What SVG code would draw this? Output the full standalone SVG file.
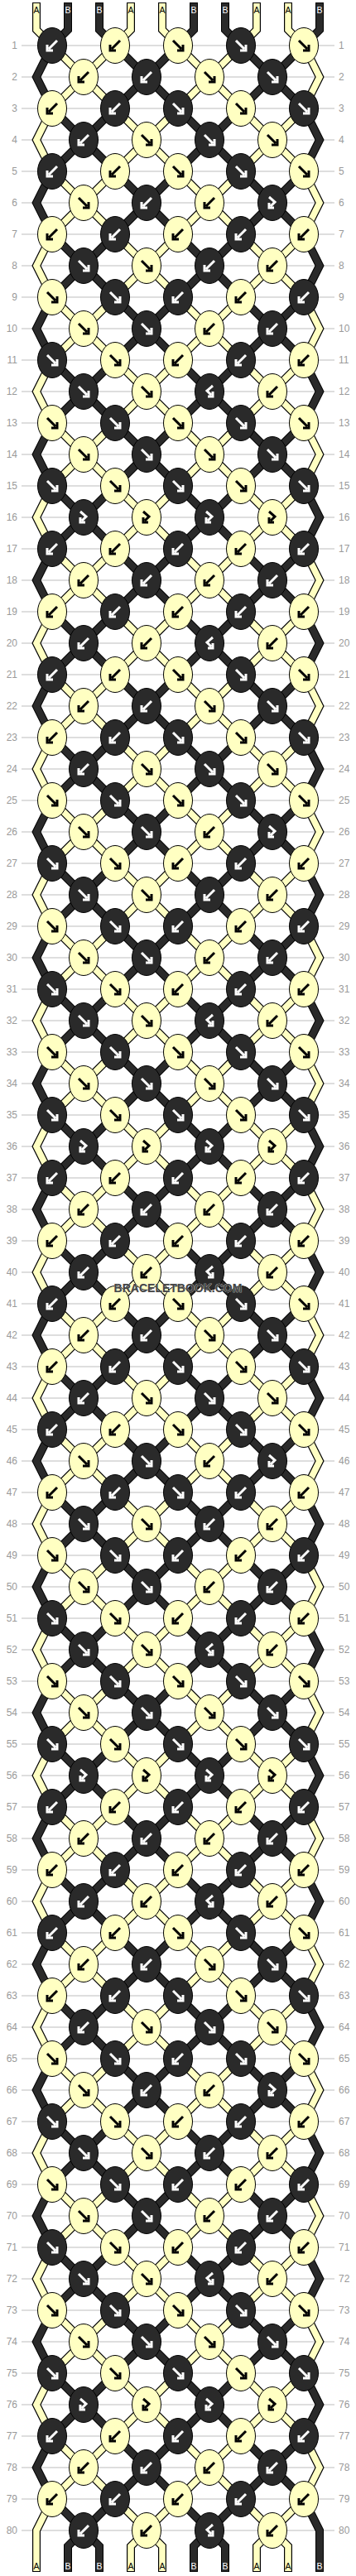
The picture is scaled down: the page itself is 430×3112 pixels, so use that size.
<svg xmlns="http://www.w3.org/2000/svg" xmlns:xlink="http://www.w3.org/1999/xlink" width="430" height="3112" viewBox="0 0 430 3112">
<defs>
<style>
.o{fill:none;stroke:#000;stroke-width:10}
.a{fill:none;stroke:#ffffc2;stroke-width:7.6}
.b{fill:none;stroke:#2a2a2a;stroke-width:8}
.ky{fill:#ffffc2;stroke:#000;stroke-width:1}
.kd{fill:#2a2a2a;stroke:#000;stroke-width:1}
.gw{fill:none;stroke:#fff;stroke-width:3}
.gk{fill:none;stroke:#000;stroke-width:3}
.grid{fill:none;stroke:#bdbdbd;stroke-width:1}
.nl,.nr{font-family:"Liberation Sans",Arial,sans-serif;font-size:12px;fill:#9a9a9a}
.nl{text-anchor:end}
.nr{text-anchor:start}
.lab{font-family:"Liberation Sans",Arial,sans-serif;font-size:10.5px;text-anchor:middle}
</style>
<path id="gf" d="M-6,-6L4,4M-1,6H6V-1"/>
<path id="gb" d="M6,-6L-4,4M1,6H-6V-1"/>
<path id="gF" d="M-4,-7L3,-1L-2,4M2,6H-4V0"/>
<path id="gB" d="M4,-7L-3,-1L2,4M-2,6H4V0"/>
<g id="Yf"><ellipse class="ky" rx="17.5" ry="21.5"/><use href="#gf" class="gk"/></g>
<g id="Yb"><ellipse class="ky" rx="17.5" ry="21.5"/><use href="#gb" class="gk"/></g>
<g id="YF"><ellipse class="ky" rx="17.5" ry="21.5"/><use href="#gF" class="gk"/></g>
<g id="Df"><ellipse class="kd" rx="17.5" ry="21.5"/><use href="#gf" class="gw"/></g>
<g id="Db"><ellipse class="kd" rx="17.5" ry="21.5"/><use href="#gb" class="gw"/></g>
<g id="DF"><ellipse class="kd" rx="17.5" ry="21.5"/><use href="#gF" class="gw"/></g>
<g id="DB"><ellipse class="kd" rx="17.5" ry="21.5"/><use href="#gB" class="gw"/></g>
<g id="xa"><path class="o" d="M-38,-38L38,38M38,-38L-38,38"/><path class="a" d="M-38,-38L38,38M38,-38L-38,38"/></g>
<g id="xb"><path class="o" d="M-38,-38L38,38M38,-38L-38,38"/><path class="b" d="M-38,-38L38,38M38,-38L-38,38"/></g>
<g id="per">
<use href="#xa" x="101" y="93"/><use href="#xb" x="177" y="93"/><use href="#xa" x="253" y="93"/><use href="#xb" x="329" y="93"/>
<use href="#xb" x="101" y="169"/><use href="#xa" x="177" y="169"/><use href="#xb" x="253" y="169"/><use href="#xa" x="329" y="169"/>
<path class="o" d="M63,55L44,93L63,131M367,131L386,169L367,207"/><path class="b" d="M63,55L44,93L63,131M367,131L386,169L367,207"/>
<path class="o" d="M367,55L386,93L367,131M63,131L44,169L63,207"/><path class="a" d="M367,55L386,93L367,131M63,131L44,169L63,207"/>
</g>
</defs>
<rect width="430" height="3112" fill="#fff"/>
<g id="grid">
<path class="grid" d="M26,55H404M26,93H404M26,131H404M26,169H404M26,207H404M26,245H404M26,283H404M26,321H404M26,359H404M26,397H404M26,435H404M26,473H404M26,511H404M26,549H404M26,587H404M26,625H404M26,663H404M26,701H404M26,739H404M26,777H404M26,815H404M26,853H404M26,891H404M26,929H404M26,967H404M26,1005H404M26,1043H404M26,1081H404M26,1119H404M26,1157H404M26,1195H404M26,1233H404M26,1271H404M26,1309H404M26,1347H404M26,1385H404M26,1423H404M26,1461H404M26,1499H404M26,1537H404M26,1575H404M26,1613H404M26,1651H404M26,1689H404M26,1727H404M26,1765H404M26,1803H404M26,1841H404M26,1879H404M26,1917H404M26,1955H404M26,1993H404M26,2031H404M26,2069H404M26,2107H404M26,2145H404M26,2183H404M26,2221H404M26,2259H404M26,2297H404M26,2335H404M26,2373H404M26,2411H404M26,2449H404M26,2487H404M26,2525H404M26,2563H404M26,2601H404M26,2639H404M26,2677H404M26,2715H404M26,2753H404M26,2791H404M26,2829H404M26,2867H404M26,2905H404M26,2943H404M26,2981H404M26,3019H404M26,3057H404"/>
<g class="nl">
<text x="21" y="59.3">1</text><text x="21" y="97.3">2</text><text x="21" y="135.3">3</text><text x="21" y="173.3">4</text><text x="21" y="211.3">5</text><text x="21" y="249.3">6</text><text x="21" y="287.3">7</text><text x="21" y="325.3">8</text><text x="21" y="363.3">9</text><text x="21" y="401.3">10</text>
<text x="21" y="439.3">11</text><text x="21" y="477.3">12</text><text x="21" y="515.3">13</text><text x="21" y="553.3">14</text><text x="21" y="591.3">15</text><text x="21" y="629.3">16</text><text x="21" y="667.3">17</text><text x="21" y="705.3">18</text><text x="21" y="743.3">19</text><text x="21" y="781.3">20</text>
<text x="21" y="819.3">21</text><text x="21" y="857.3">22</text><text x="21" y="895.3">23</text><text x="21" y="933.3">24</text><text x="21" y="971.3">25</text><text x="21" y="1009.3">26</text><text x="21" y="1047.3">27</text><text x="21" y="1085.3">28</text><text x="21" y="1123.3">29</text><text x="21" y="1161.3">30</text>
<text x="21" y="1199.3">31</text><text x="21" y="1237.3">32</text><text x="21" y="1275.3">33</text><text x="21" y="1313.3">34</text><text x="21" y="1351.3">35</text><text x="21" y="1389.3">36</text><text x="21" y="1427.3">37</text><text x="21" y="1465.3">38</text><text x="21" y="1503.3">39</text><text x="21" y="1541.3">40</text>
<text x="21" y="1579.3">41</text><text x="21" y="1617.3">42</text><text x="21" y="1655.3">43</text><text x="21" y="1693.3">44</text><text x="21" y="1731.3">45</text><text x="21" y="1769.3">46</text><text x="21" y="1807.3">47</text><text x="21" y="1845.3">48</text><text x="21" y="1883.3">49</text><text x="21" y="1921.3">50</text>
<text x="21" y="1959.3">51</text><text x="21" y="1997.3">52</text><text x="21" y="2035.3">53</text><text x="21" y="2073.3">54</text><text x="21" y="2111.3">55</text><text x="21" y="2149.3">56</text><text x="21" y="2187.3">57</text><text x="21" y="2225.3">58</text><text x="21" y="2263.3">59</text><text x="21" y="2301.3">60</text>
<text x="21" y="2339.3">61</text><text x="21" y="2377.3">62</text><text x="21" y="2415.3">63</text><text x="21" y="2453.3">64</text><text x="21" y="2491.3">65</text><text x="21" y="2529.3">66</text><text x="21" y="2567.3">67</text><text x="21" y="2605.3">68</text><text x="21" y="2643.3">69</text><text x="21" y="2681.3">70</text>
<text x="21" y="2719.3">71</text><text x="21" y="2757.3">72</text><text x="21" y="2795.3">73</text><text x="21" y="2833.3">74</text><text x="21" y="2871.3">75</text><text x="21" y="2909.3">76</text><text x="21" y="2947.3">77</text><text x="21" y="2985.3">78</text><text x="21" y="3023.3">79</text><text x="21" y="3061.3">80</text>
</g>
<g class="nr">
<text x="409" y="59.3">1</text><text x="409" y="97.3">2</text><text x="409" y="135.3">3</text><text x="409" y="173.3">4</text><text x="409" y="211.3">5</text><text x="409" y="249.3">6</text><text x="409" y="287.3">7</text><text x="409" y="325.3">8</text><text x="409" y="363.3">9</text><text x="409" y="401.3">10</text>
<text x="409" y="439.3">11</text><text x="409" y="477.3">12</text><text x="409" y="515.3">13</text><text x="409" y="553.3">14</text><text x="409" y="591.3">15</text><text x="409" y="629.3">16</text><text x="409" y="667.3">17</text><text x="409" y="705.3">18</text><text x="409" y="743.3">19</text><text x="409" y="781.3">20</text>
<text x="409" y="819.3">21</text><text x="409" y="857.3">22</text><text x="409" y="895.3">23</text><text x="409" y="933.3">24</text><text x="409" y="971.3">25</text><text x="409" y="1009.3">26</text><text x="409" y="1047.3">27</text><text x="409" y="1085.3">28</text><text x="409" y="1123.3">29</text><text x="409" y="1161.3">30</text>
<text x="409" y="1199.3">31</text><text x="409" y="1237.3">32</text><text x="409" y="1275.3">33</text><text x="409" y="1313.3">34</text><text x="409" y="1351.3">35</text><text x="409" y="1389.3">36</text><text x="409" y="1427.3">37</text><text x="409" y="1465.3">38</text><text x="409" y="1503.3">39</text><text x="409" y="1541.3">40</text>
<text x="409" y="1579.3">41</text><text x="409" y="1617.3">42</text><text x="409" y="1655.3">43</text><text x="409" y="1693.3">44</text><text x="409" y="1731.3">45</text><text x="409" y="1769.3">46</text><text x="409" y="1807.3">47</text><text x="409" y="1845.3">48</text><text x="409" y="1883.3">49</text><text x="409" y="1921.3">50</text>
<text x="409" y="1959.3">51</text><text x="409" y="1997.3">52</text><text x="409" y="2035.3">53</text><text x="409" y="2073.3">54</text><text x="409" y="2111.3">55</text><text x="409" y="2149.3">56</text><text x="409" y="2187.3">57</text><text x="409" y="2225.3">58</text><text x="409" y="2263.3">59</text><text x="409" y="2301.3">60</text>
<text x="409" y="2339.3">61</text><text x="409" y="2377.3">62</text><text x="409" y="2415.3">63</text><text x="409" y="2453.3">64</text><text x="409" y="2491.3">65</text><text x="409" y="2529.3">66</text><text x="409" y="2567.3">67</text><text x="409" y="2605.3">68</text><text x="409" y="2643.3">69</text><text x="409" y="2681.3">70</text>
<text x="409" y="2719.3">71</text><text x="409" y="2757.3">72</text><text x="409" y="2795.3">73</text><text x="409" y="2833.3">74</text><text x="409" y="2871.3">75</text><text x="409" y="2909.3">76</text><text x="409" y="2947.3">77</text><text x="409" y="2985.3">78</text><text x="409" y="3023.3">79</text><text x="409" y="3061.3">80</text>
</g>
</g>
<g id="connectors">
<path class="o" d="M44,3V36L63,55M158,3V36L139,55M196,3V36L215,55M310,3V36L291,55M348,3V36L367,55"/>
<path class="a" d="M44,4V36L63,55M158,4V36L139,55M196,4V36L215,55M310,4V36L291,55M348,4V36L367,55"/>
<path class="o" d="M82,3V36L63,55M120,3V36L139,55M234,3V36L215,55M272,3V36L291,55M386,3V36L367,55"/>
<path class="b" d="M82,4V36L63,55M120,4V36L139,55M234,4V36L215,55M272,4V36L291,55M386,4V36L367,55"/>
<use href="#per" y="0"/><use href="#per" y="152"/><use href="#per" y="304"/><use href="#per" y="456"/><use href="#per" y="608"/>
<use href="#per" y="760"/><use href="#per" y="912"/><use href="#per" y="1064"/><use href="#per" y="1216"/><use href="#per" y="1368"/>
<use href="#per" y="1520"/><use href="#per" y="1672"/><use href="#per" y="1824"/><use href="#per" y="1976"/><use href="#per" y="2128"/>
<use href="#per" y="2280"/><use href="#per" y="2432"/><use href="#per" y="2584"/><use href="#per" y="2736"/>
<use href="#xa" x="101" y="2981"/><use href="#xb" x="177" y="2981"/><use href="#xa" x="253" y="2981"/><use href="#xb" x="329" y="2981"/>
<path class="o" d="M63,2943L44,2981L63,3019"/><path class="b" d="M63,2943L44,2981L63,3019"/>
<path class="o" d="M367,2943L386,2981L367,3019"/><path class="a" d="M367,2943L386,2981L367,3019"/>
<path class="o" d="M63,3019L101,3057L120,3076V3107M139,3019L101,3057L82,3076V3107M215,3019L253,3057L272,3076V3107M291,3019L253,3057L234,3076V3107M367,3019L386,3057V3107"/>
<path class="b" d="M63,3019L101,3057L120,3076V3106M139,3019L101,3057L82,3076V3106M215,3019L253,3057L272,3076V3106M291,3019L253,3057L234,3076V3106M367,3019L386,3057V3106"/>
<path class="o" d="M139,3019L177,3057L196,3076V3107M215,3019L177,3057L158,3076V3107M291,3019L329,3057L348,3076V3107M367,3019L329,3057L310,3076V3107M63,3019L44,3057V3107"/>
<path class="a" d="M139,3019L177,3057L196,3076V3106M215,3019L177,3057L158,3076V3106M291,3019L329,3057L348,3076V3106M367,3019L329,3057L310,3076V3106M63,3019L44,3057V3106"/>
</g>
<g id="labels">
<g class="lab" fill="#000"><text x="44" y="16">A</text><text x="158" y="16">A</text><text x="196" y="16">A</text><text x="310" y="16">A</text><text x="348" y="16">A</text>
<text x="44" y="3104">A</text><text x="158" y="3104">A</text><text x="196" y="3104">A</text><text x="310" y="3104">A</text><text x="348" y="3104">A</text></g>
<g class="lab" fill="#fff"><text x="82" y="16">B</text><text x="120" y="16">B</text><text x="234" y="16">B</text><text x="272" y="16">B</text><text x="386" y="16">B</text>
<text x="82" y="3104">B</text><text x="120" y="3104">B</text><text x="234" y="3104">B</text><text x="272" y="3104">B</text><text x="386" y="3104">B</text></g>
</g>
<g id="knots">
<g id="k1-1"><use href="#Db" x="63" y="55"/></g><g id="k1-2"><use href="#Yb" x="139" y="55"/></g><g id="k1-3"><use href="#Yf" x="215" y="55"/></g><g id="k1-4"><use href="#Df" x="291" y="55"/></g><g id="k1-5"><use href="#Yf" x="367" y="55"/></g>
<g id="k2-1"><use href="#Yb" x="101" y="93"/></g><g id="k2-2"><use href="#Db" x="177" y="93"/></g><g id="k2-3"><use href="#Yf" x="253" y="93"/></g><g id="k2-4"><use href="#Df" x="329" y="93"/></g>
<g id="k3-1"><use href="#Yb" x="63" y="131"/></g><g id="k3-2"><use href="#Db" x="139" y="131"/></g><g id="k3-3"><use href="#Df" x="215" y="131"/></g><g id="k3-4"><use href="#Yf" x="291" y="131"/></g><g id="k3-5"><use href="#Df" x="367" y="131"/></g>
<g id="k4-1"><use href="#Db" x="101" y="169"/></g><g id="k4-2"><use href="#Yf" x="177" y="169"/></g><g id="k4-3"><use href="#Df" x="253" y="169"/></g><g id="k4-4"><use href="#Yf" x="329" y="169"/></g>
<g id="k5-1"><use href="#Db" x="63" y="207"/></g><g id="k5-2"><use href="#Yb" x="139" y="207"/></g><g id="k5-3"><use href="#Yf" x="215" y="207"/></g><g id="k5-4"><use href="#Df" x="291" y="207"/></g><g id="k5-5"><use href="#Yf" x="367" y="207"/></g>
<g id="k6-1"><use href="#Yf" x="101" y="245"/></g><g id="k6-2"><use href="#Db" x="177" y="245"/></g><g id="k6-3"><use href="#Yb" x="253" y="245"/></g><g id="k6-4"><use href="#DF" x="329" y="245"/></g>
<g id="k7-1"><use href="#Yb" x="63" y="283"/></g><g id="k7-2"><use href="#Db" x="139" y="283"/></g><g id="k7-3"><use href="#Yb" x="215" y="283"/></g><g id="k7-4"><use href="#Db" x="291" y="283"/></g><g id="k7-5"><use href="#Yb" x="367" y="283"/></g>
<g id="k8-1"><use href="#Df" x="101" y="321"/></g><g id="k8-2"><use href="#Yf" x="177" y="321"/></g><g id="k8-3"><use href="#Db" x="253" y="321"/></g><g id="k8-4"><use href="#Yb" x="329" y="321"/></g>
<g id="k9-1"><use href="#Yf" x="63" y="359"/></g><g id="k9-2"><use href="#Df" x="139" y="359"/></g><g id="k9-3"><use href="#Db" x="215" y="359"/></g><g id="k9-4"><use href="#Yb" x="291" y="359"/></g><g id="k9-5"><use href="#Db" x="367" y="359"/></g>
<g id="k10-1"><use href="#Yf" x="101" y="397"/></g><g id="k10-2"><use href="#Df" x="177" y="397"/></g><g id="k10-3"><use href="#Yb" x="253" y="397"/></g><g id="k10-4"><use href="#Db" x="329" y="397"/></g>
<g id="k11-1"><use href="#Df" x="63" y="435"/></g><g id="k11-2"><use href="#Yf" x="139" y="435"/></g><g id="k11-3"><use href="#Yb" x="215" y="435"/></g><g id="k11-4"><use href="#Db" x="291" y="435"/></g><g id="k11-5"><use href="#Yb" x="367" y="435"/></g>
<g id="k12-1"><use href="#Df" x="101" y="473"/></g><g id="k12-2"><use href="#Yf" x="177" y="473"/></g><g id="k12-3"><use href="#DB" x="253" y="473"/></g><g id="k12-4"><use href="#Yb" x="329" y="473"/></g>
<g id="k13-1"><use href="#Yf" x="63" y="511"/></g><g id="k13-2"><use href="#Df" x="139" y="511"/></g><g id="k13-3"><use href="#Yf" x="215" y="511"/></g><g id="k13-4"><use href="#Df" x="291" y="511"/></g><g id="k13-5"><use href="#Yf" x="367" y="511"/></g>
<g id="k14-1"><use href="#Yf" x="101" y="549"/></g><g id="k14-2"><use href="#Df" x="177" y="549"/></g><g id="k14-3"><use href="#Yf" x="253" y="549"/></g><g id="k14-4"><use href="#Df" x="329" y="549"/></g>
<g id="k15-1"><use href="#Df" x="63" y="587"/></g><g id="k15-2"><use href="#Yf" x="139" y="587"/></g><g id="k15-3"><use href="#Df" x="215" y="587"/></g><g id="k15-4"><use href="#Yf" x="291" y="587"/></g><g id="k15-5"><use href="#Df" x="367" y="587"/></g>
<g id="k16-1"><use href="#DF" x="101" y="625"/></g><g id="k16-2"><use href="#YF" x="177" y="625"/></g><g id="k16-3"><use href="#DF" x="253" y="625"/></g><g id="k16-4"><use href="#YF" x="329" y="625"/></g>
<g id="k17-1"><use href="#Db" x="63" y="663"/></g><g id="k17-2"><use href="#Yb" x="139" y="663"/></g><g id="k17-3"><use href="#Db" x="215" y="663"/></g><g id="k17-4"><use href="#Yb" x="291" y="663"/></g><g id="k17-5"><use href="#Db" x="367" y="663"/></g>
<g id="k18-1"><use href="#Yb" x="101" y="701"/></g><g id="k18-2"><use href="#Db" x="177" y="701"/></g><g id="k18-3"><use href="#Yb" x="253" y="701"/></g><g id="k18-4"><use href="#Db" x="329" y="701"/></g>
<g id="k19-1"><use href="#Yb" x="63" y="739"/></g><g id="k19-2"><use href="#Db" x="139" y="739"/></g><g id="k19-3"><use href="#Yb" x="215" y="739"/></g><g id="k19-4"><use href="#Db" x="291" y="739"/></g><g id="k19-5"><use href="#Yb" x="367" y="739"/></g>
<g id="k20-1"><use href="#Db" x="101" y="777"/></g><g id="k20-2"><use href="#Yb" x="177" y="777"/></g><g id="k20-3"><use href="#DB" x="253" y="777"/></g><g id="k20-4"><use href="#Yb" x="329" y="777"/></g>
<g id="k21-1"><use href="#Db" x="63" y="815"/></g><g id="k21-2"><use href="#Yb" x="139" y="815"/></g><g id="k21-3"><use href="#Yf" x="215" y="815"/></g><g id="k21-4"><use href="#Df" x="291" y="815"/></g><g id="k21-5"><use href="#Yf" x="367" y="815"/></g>
<g id="k22-1"><use href="#Yb" x="101" y="853"/></g><g id="k22-2"><use href="#Db" x="177" y="853"/></g><g id="k22-3"><use href="#Yf" x="253" y="853"/></g><g id="k22-4"><use href="#Df" x="329" y="853"/></g>
<g id="k23-1"><use href="#Yb" x="63" y="891"/></g><g id="k23-2"><use href="#Db" x="139" y="891"/></g><g id="k23-3"><use href="#Df" x="215" y="891"/></g><g id="k23-4"><use href="#Yf" x="291" y="891"/></g><g id="k23-5"><use href="#Df" x="367" y="891"/></g>
<g id="k24-1"><use href="#Db" x="101" y="929"/></g><g id="k24-2"><use href="#Yf" x="177" y="929"/></g><g id="k24-3"><use href="#Df" x="253" y="929"/></g><g id="k24-4"><use href="#Yf" x="329" y="929"/></g>
<g id="k25-1"><use href="#Yf" x="63" y="967"/></g><g id="k25-2"><use href="#Df" x="139" y="967"/></g><g id="k25-3"><use href="#Yf" x="215" y="967"/></g><g id="k25-4"><use href="#Df" x="291" y="967"/></g><g id="k25-5"><use href="#Yf" x="367" y="967"/></g>
<g id="k26-1"><use href="#Yf" x="101" y="1005"/></g><g id="k26-2"><use href="#Df" x="177" y="1005"/></g><g id="k26-3"><use href="#Yb" x="253" y="1005"/></g><g id="k26-4"><use href="#DF" x="329" y="1005"/></g>
<g id="k27-1"><use href="#Df" x="63" y="1043"/></g><g id="k27-2"><use href="#Yf" x="139" y="1043"/></g><g id="k27-3"><use href="#Yb" x="215" y="1043"/></g><g id="k27-4"><use href="#Db" x="291" y="1043"/></g><g id="k27-5"><use href="#Yb" x="367" y="1043"/></g>
<g id="k28-1"><use href="#Df" x="101" y="1081"/></g><g id="k28-2"><use href="#Yf" x="177" y="1081"/></g><g id="k28-3"><use href="#Db" x="253" y="1081"/></g><g id="k28-4"><use href="#Yb" x="329" y="1081"/></g>
<g id="k29-1"><use href="#Yf" x="63" y="1119"/></g><g id="k29-2"><use href="#Df" x="139" y="1119"/></g><g id="k29-3"><use href="#Db" x="215" y="1119"/></g><g id="k29-4"><use href="#Yb" x="291" y="1119"/></g><g id="k29-5"><use href="#Db" x="367" y="1119"/></g>
<g id="k30-1"><use href="#Yf" x="101" y="1157"/></g><g id="k30-2"><use href="#Df" x="177" y="1157"/></g><g id="k30-3"><use href="#Yb" x="253" y="1157"/></g><g id="k30-4"><use href="#Db" x="329" y="1157"/></g>
<g id="k31-1"><use href="#Df" x="63" y="1195"/></g><g id="k31-2"><use href="#Yf" x="139" y="1195"/></g><g id="k31-3"><use href="#Yb" x="215" y="1195"/></g><g id="k31-4"><use href="#Db" x="291" y="1195"/></g><g id="k31-5"><use href="#Yb" x="367" y="1195"/></g>
<g id="k32-1"><use href="#Df" x="101" y="1233"/></g><g id="k32-2"><use href="#Yf" x="177" y="1233"/></g><g id="k32-3"><use href="#DB" x="253" y="1233"/></g><g id="k32-4"><use href="#Yb" x="329" y="1233"/></g>
<g id="k33-1"><use href="#Yf" x="63" y="1271"/></g><g id="k33-2"><use href="#Df" x="139" y="1271"/></g><g id="k33-3"><use href="#Yf" x="215" y="1271"/></g><g id="k33-4"><use href="#Df" x="291" y="1271"/></g><g id="k33-5"><use href="#Yf" x="367" y="1271"/></g>
<g id="k34-1"><use href="#Yf" x="101" y="1309"/></g><g id="k34-2"><use href="#Df" x="177" y="1309"/></g><g id="k34-3"><use href="#Yf" x="253" y="1309"/></g><g id="k34-4"><use href="#Df" x="329" y="1309"/></g>
<g id="k35-1"><use href="#Df" x="63" y="1347"/></g><g id="k35-2"><use href="#Yf" x="139" y="1347"/></g><g id="k35-3"><use href="#Df" x="215" y="1347"/></g><g id="k35-4"><use href="#Yf" x="291" y="1347"/></g><g id="k35-5"><use href="#Df" x="367" y="1347"/></g>
<g id="k36-1"><use href="#DF" x="101" y="1385"/></g><g id="k36-2"><use href="#YF" x="177" y="1385"/></g><g id="k36-3"><use href="#DF" x="253" y="1385"/></g><g id="k36-4"><use href="#YF" x="329" y="1385"/></g>
<g id="k37-1"><use href="#Db" x="63" y="1423"/></g><g id="k37-2"><use href="#Yb" x="139" y="1423"/></g><g id="k37-3"><use href="#Db" x="215" y="1423"/></g><g id="k37-4"><use href="#Yb" x="291" y="1423"/></g><g id="k37-5"><use href="#Db" x="367" y="1423"/></g>
<g id="k38-1"><use href="#Yb" x="101" y="1461"/></g><g id="k38-2"><use href="#Db" x="177" y="1461"/></g><g id="k38-3"><use href="#Yb" x="253" y="1461"/></g><g id="k38-4"><use href="#Db" x="329" y="1461"/></g>
<g id="k39-1"><use href="#Yb" x="63" y="1499"/></g><g id="k39-2"><use href="#Db" x="139" y="1499"/></g><g id="k39-3"><use href="#Yb" x="215" y="1499"/></g><g id="k39-4"><use href="#Db" x="291" y="1499"/></g><g id="k39-5"><use href="#Yb" x="367" y="1499"/></g>
<g id="k40-1"><use href="#Db" x="101" y="1537"/></g><g id="k40-2"><use href="#Yb" x="177" y="1537"/></g><g id="k40-3"><use href="#DB" x="253" y="1537"/></g><g id="k40-4"><use href="#Yb" x="329" y="1537"/></g>
<g id="k41-1"><use href="#Db" x="63" y="1575"/></g><g id="k41-2"><use href="#Yb" x="139" y="1575"/></g><g id="k41-3"><use href="#Yf" x="215" y="1575"/></g><g id="k41-4"><use href="#Df" x="291" y="1575"/></g><g id="k41-5"><use href="#Yf" x="367" y="1575"/></g>
<g id="k42-1"><use href="#Yb" x="101" y="1613"/></g><g id="k42-2"><use href="#Db" x="177" y="1613"/></g><g id="k42-3"><use href="#Yf" x="253" y="1613"/></g><g id="k42-4"><use href="#Df" x="329" y="1613"/></g>
<g id="k43-1"><use href="#Yb" x="63" y="1651"/></g><g id="k43-2"><use href="#Db" x="139" y="1651"/></g><g id="k43-3"><use href="#Df" x="215" y="1651"/></g><g id="k43-4"><use href="#Yf" x="291" y="1651"/></g><g id="k43-5"><use href="#Df" x="367" y="1651"/></g>
<g id="k44-1"><use href="#Db" x="101" y="1689"/></g><g id="k44-2"><use href="#Yf" x="177" y="1689"/></g><g id="k44-3"><use href="#Df" x="253" y="1689"/></g><g id="k44-4"><use href="#Yf" x="329" y="1689"/></g>
<g id="k45-1"><use href="#Db" x="63" y="1727"/></g><g id="k45-2"><use href="#Yb" x="139" y="1727"/></g><g id="k45-3"><use href="#Yf" x="215" y="1727"/></g><g id="k45-4"><use href="#Df" x="291" y="1727"/></g><g id="k45-5"><use href="#Yf" x="367" y="1727"/></g>
<g id="k46-1"><use href="#Yf" x="101" y="1765"/></g><g id="k46-2"><use href="#Df" x="177" y="1765"/></g><g id="k46-3"><use href="#Yb" x="253" y="1765"/></g><g id="k46-4"><use href="#DF" x="329" y="1765"/></g>
<g id="k47-1"><use href="#Yb" x="63" y="1803"/></g><g id="k47-2"><use href="#Db" x="139" y="1803"/></g><g id="k47-3"><use href="#Df" x="215" y="1803"/></g><g id="k47-4"><use href="#Db" x="291" y="1803"/></g><g id="k47-5"><use href="#Yb" x="367" y="1803"/></g>
<g id="k48-1"><use href="#Df" x="101" y="1841"/></g><g id="k48-2"><use href="#Yf" x="177" y="1841"/></g><g id="k48-3"><use href="#Db" x="253" y="1841"/></g><g id="k48-4"><use href="#Yb" x="329" y="1841"/></g>
<g id="k49-1"><use href="#Yf" x="63" y="1879"/></g><g id="k49-2"><use href="#Df" x="139" y="1879"/></g><g id="k49-3"><use href="#Db" x="215" y="1879"/></g><g id="k49-4"><use href="#Yb" x="291" y="1879"/></g><g id="k49-5"><use href="#Db" x="367" y="1879"/></g>
<g id="k50-1"><use href="#Yf" x="101" y="1917"/></g><g id="k50-2"><use href="#Df" x="177" y="1917"/></g><g id="k50-3"><use href="#Yb" x="253" y="1917"/></g><g id="k50-4"><use href="#Db" x="329" y="1917"/></g>
<g id="k51-1"><use href="#Df" x="63" y="1955"/></g><g id="k51-2"><use href="#Yf" x="139" y="1955"/></g><g id="k51-3"><use href="#Yb" x="215" y="1955"/></g><g id="k51-4"><use href="#Db" x="291" y="1955"/></g><g id="k51-5"><use href="#Yb" x="367" y="1955"/></g>
<g id="k52-1"><use href="#Df" x="101" y="1993"/></g><g id="k52-2"><use href="#Yf" x="177" y="1993"/></g><g id="k52-3"><use href="#DB" x="253" y="1993"/></g><g id="k52-4"><use href="#Yb" x="329" y="1993"/></g>
<g id="k53-1"><use href="#Yf" x="63" y="2031"/></g><g id="k53-2"><use href="#Df" x="139" y="2031"/></g><g id="k53-3"><use href="#Yf" x="215" y="2031"/></g><g id="k53-4"><use href="#Df" x="291" y="2031"/></g><g id="k53-5"><use href="#Yf" x="367" y="2031"/></g>
<g id="k54-1"><use href="#Yf" x="101" y="2069"/></g><g id="k54-2"><use href="#Df" x="177" y="2069"/></g><g id="k54-3"><use href="#Yf" x="253" y="2069"/></g><g id="k54-4"><use href="#Df" x="329" y="2069"/></g>
<g id="k55-1"><use href="#Df" x="63" y="2107"/></g><g id="k55-2"><use href="#Yf" x="139" y="2107"/></g><g id="k55-3"><use href="#Df" x="215" y="2107"/></g><g id="k55-4"><use href="#Yf" x="291" y="2107"/></g><g id="k55-5"><use href="#Df" x="367" y="2107"/></g>
<g id="k56-1"><use href="#DF" x="101" y="2145"/></g><g id="k56-2"><use href="#YF" x="177" y="2145"/></g><g id="k56-3"><use href="#DF" x="253" y="2145"/></g><g id="k56-4"><use href="#YF" x="329" y="2145"/></g>
<g id="k57-1"><use href="#Db" x="63" y="2183"/></g><g id="k57-2"><use href="#Yb" x="139" y="2183"/></g><g id="k57-3"><use href="#Db" x="215" y="2183"/></g><g id="k57-4"><use href="#Yb" x="291" y="2183"/></g><g id="k57-5"><use href="#Db" x="367" y="2183"/></g>
<g id="k58-1"><use href="#Yb" x="101" y="2221"/></g><g id="k58-2"><use href="#Db" x="177" y="2221"/></g><g id="k58-3"><use href="#Yb" x="253" y="2221"/></g><g id="k58-4"><use href="#Db" x="329" y="2221"/></g>
<g id="k59-1"><use href="#Yb" x="63" y="2259"/></g><g id="k59-2"><use href="#Db" x="139" y="2259"/></g><g id="k59-3"><use href="#Yb" x="215" y="2259"/></g><g id="k59-4"><use href="#Db" x="291" y="2259"/></g><g id="k59-5"><use href="#Yb" x="367" y="2259"/></g>
<g id="k60-1"><use href="#Db" x="101" y="2297"/></g><g id="k60-2"><use href="#Yb" x="177" y="2297"/></g><g id="k60-3"><use href="#DB" x="253" y="2297"/></g><g id="k60-4"><use href="#Yb" x="329" y="2297"/></g>
<g id="k61-1"><use href="#Db" x="63" y="2335"/></g><g id="k61-2"><use href="#Yb" x="139" y="2335"/></g><g id="k61-3"><use href="#Yf" x="215" y="2335"/></g><g id="k61-4"><use href="#Df" x="291" y="2335"/></g><g id="k61-5"><use href="#Yf" x="367" y="2335"/></g>
<g id="k62-1"><use href="#Yb" x="101" y="2373"/></g><g id="k62-2"><use href="#Db" x="177" y="2373"/></g><g id="k62-3"><use href="#Yf" x="253" y="2373"/></g><g id="k62-4"><use href="#Df" x="329" y="2373"/></g>
<g id="k63-1"><use href="#Yb" x="63" y="2411"/></g><g id="k63-2"><use href="#Db" x="139" y="2411"/></g><g id="k63-3"><use href="#Df" x="215" y="2411"/></g><g id="k63-4"><use href="#Yf" x="291" y="2411"/></g><g id="k63-5"><use href="#Df" x="367" y="2411"/></g>
<g id="k64-1"><use href="#Db" x="101" y="2449"/></g><g id="k64-2"><use href="#Yf" x="177" y="2449"/></g><g id="k64-3"><use href="#Df" x="253" y="2449"/></g><g id="k64-4"><use href="#Yf" x="329" y="2449"/></g>
<g id="k65-1"><use href="#Yf" x="63" y="2487"/></g><g id="k65-2"><use href="#Df" x="139" y="2487"/></g><g id="k65-3"><use href="#Db" x="215" y="2487"/></g><g id="k65-4"><use href="#Df" x="291" y="2487"/></g><g id="k65-5"><use href="#Yf" x="367" y="2487"/></g>
<g id="k66-1"><use href="#Yf" x="101" y="2525"/></g><g id="k66-2"><use href="#Db" x="177" y="2525"/></g><g id="k66-3"><use href="#Yb" x="253" y="2525"/></g><g id="k66-4"><use href="#DF" x="329" y="2525"/></g>
<g id="k67-1"><use href="#Df" x="63" y="2563"/></g><g id="k67-2"><use href="#Yf" x="139" y="2563"/></g><g id="k67-3"><use href="#Yb" x="215" y="2563"/></g><g id="k67-4"><use href="#Db" x="291" y="2563"/></g><g id="k67-5"><use href="#Yb" x="367" y="2563"/></g>
<g id="k68-1"><use href="#Df" x="101" y="2601"/></g><g id="k68-2"><use href="#Yf" x="177" y="2601"/></g><g id="k68-3"><use href="#Db" x="253" y="2601"/></g><g id="k68-4"><use href="#Yb" x="329" y="2601"/></g>
<g id="k69-1"><use href="#Yf" x="63" y="2639"/></g><g id="k69-2"><use href="#Df" x="139" y="2639"/></g><g id="k69-3"><use href="#Db" x="215" y="2639"/></g><g id="k69-4"><use href="#Yb" x="291" y="2639"/></g><g id="k69-5"><use href="#Db" x="367" y="2639"/></g>
<g id="k70-1"><use href="#Yf" x="101" y="2677"/></g><g id="k70-2"><use href="#Df" x="177" y="2677"/></g><g id="k70-3"><use href="#Yb" x="253" y="2677"/></g><g id="k70-4"><use href="#Db" x="329" y="2677"/></g>
<g id="k71-1"><use href="#Df" x="63" y="2715"/></g><g id="k71-2"><use href="#Yf" x="139" y="2715"/></g><g id="k71-3"><use href="#Yb" x="215" y="2715"/></g><g id="k71-4"><use href="#Db" x="291" y="2715"/></g><g id="k71-5"><use href="#Yb" x="367" y="2715"/></g>
<g id="k72-1"><use href="#Df" x="101" y="2753"/></g><g id="k72-2"><use href="#Yf" x="177" y="2753"/></g><g id="k72-3"><use href="#DB" x="253" y="2753"/></g><g id="k72-4"><use href="#Yb" x="329" y="2753"/></g>
<g id="k73-1"><use href="#Yf" x="63" y="2791"/></g><g id="k73-2"><use href="#Df" x="139" y="2791"/></g><g id="k73-3"><use href="#Yf" x="215" y="2791"/></g><g id="k73-4"><use href="#Df" x="291" y="2791"/></g><g id="k73-5"><use href="#Yf" x="367" y="2791"/></g>
<g id="k74-1"><use href="#Yf" x="101" y="2829"/></g><g id="k74-2"><use href="#Df" x="177" y="2829"/></g><g id="k74-3"><use href="#Yf" x="253" y="2829"/></g><g id="k74-4"><use href="#Df" x="329" y="2829"/></g>
<g id="k75-1"><use href="#Df" x="63" y="2867"/></g><g id="k75-2"><use href="#Yf" x="139" y="2867"/></g><g id="k75-3"><use href="#Df" x="215" y="2867"/></g><g id="k75-4"><use href="#Yf" x="291" y="2867"/></g><g id="k75-5"><use href="#Df" x="367" y="2867"/></g>
<g id="k76-1"><use href="#DF" x="101" y="2905"/></g><g id="k76-2"><use href="#YF" x="177" y="2905"/></g><g id="k76-3"><use href="#DF" x="253" y="2905"/></g><g id="k76-4"><use href="#YF" x="329" y="2905"/></g>
<g id="k77-1"><use href="#Db" x="63" y="2943"/></g><g id="k77-2"><use href="#Yb" x="139" y="2943"/></g><g id="k77-3"><use href="#Db" x="215" y="2943"/></g><g id="k77-4"><use href="#Yb" x="291" y="2943"/></g><g id="k77-5"><use href="#Db" x="367" y="2943"/></g>
<g id="k78-1"><use href="#Yb" x="101" y="2981"/></g><g id="k78-2"><use href="#Db" x="177" y="2981"/></g><g id="k78-3"><use href="#Yb" x="253" y="2981"/></g><g id="k78-4"><use href="#Db" x="329" y="2981"/></g>
<g id="k79-1"><use href="#Yb" x="63" y="3019"/></g><g id="k79-2"><use href="#Db" x="139" y="3019"/></g><g id="k79-3"><use href="#Yb" x="215" y="3019"/></g><g id="k79-4"><use href="#Db" x="291" y="3019"/></g><g id="k79-5"><use href="#Yb" x="367" y="3019"/></g>
<g id="k80-1"><use href="#Db" x="101" y="3057"/></g><g id="k80-2"><use href="#Yb" x="177" y="3057"/></g><g id="k80-3"><use href="#DB" x="253" y="3057"/></g><g id="k80-4"><use href="#Yb" x="329" y="3057"/></g>
</g>
<text id="watermark" x="215" y="1561" text-anchor="middle" font-family="Liberation Sans, Arial, sans-serif" font-weight="bold" font-size="14" fill="#444" stroke="#e0e0e0" stroke-width="0.6" paint-order="stroke">BRACELETBOOK.COM</text>
</svg>
